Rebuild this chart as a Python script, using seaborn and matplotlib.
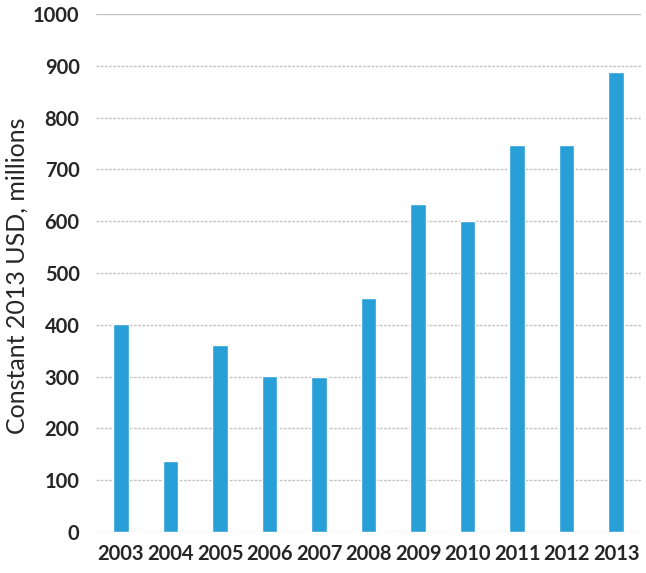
import matplotlib
matplotlib.use("Agg")
import matplotlib.pyplot as plt
import seaborn as sns
import pandas as pd

years = ["2003", "2004", "2005", "2006", "2007", "2008", "2009", "2010", "2011", "2012", "2013"]
values = [401, 137, 361, 301, 299, 452, 633, 600, 747, 747, 888]
y_ticks = [0, 100, 200, 300, 400, 500, 600, 700, 800, 900, 1000]

sns.set_theme(style="white")
plt.rcParams['font.family'] = ['Lato', 'DejaVu Sans']

df = pd.DataFrame({"year": years, "value": values})

fig = plt.figure(figsize=(6.46, 5.73), dpi=100)
ax = fig.add_axes([0.149, 0.0716, 0.843, 0.904])

sns.barplot(data=df, x="year", y="value", color="#289fd7", width=0.31,
            saturation=1, ax=ax, zorder=3)

ax.set_ylim(0, 1000)
ax.set_xlim(-0.5, 10.5)
ax.set_yticks(y_ticks)
for t in y_ticks:
    ax.axhline(t, color="#c4c4c4", lw=1.0, ls=(0, (2, 1)) if t != 1000 else "-", zorder=1)

for s in ax.spines.values():
    s.set_visible(False)
ax.tick_params(axis="both", length=0, labelsize=14.5, labelcolor="#262626")
ax.tick_params(axis="y", pad=12)
ax.tick_params(axis="x", pad=9)
for lab in ax.get_xticklabels() + ax.get_yticklabels():
    lab.set_fontweight("bold")
ax.set_xlabel("")
ax.set_ylabel("Constant 2013 USD, millions", fontsize=18, color="#262626",
              va="center", ha="center")
ax.yaxis.set_label_coords(-0.145, 0.494)
ax.grid(False)

fig.savefig("out.png", dpi=100)
